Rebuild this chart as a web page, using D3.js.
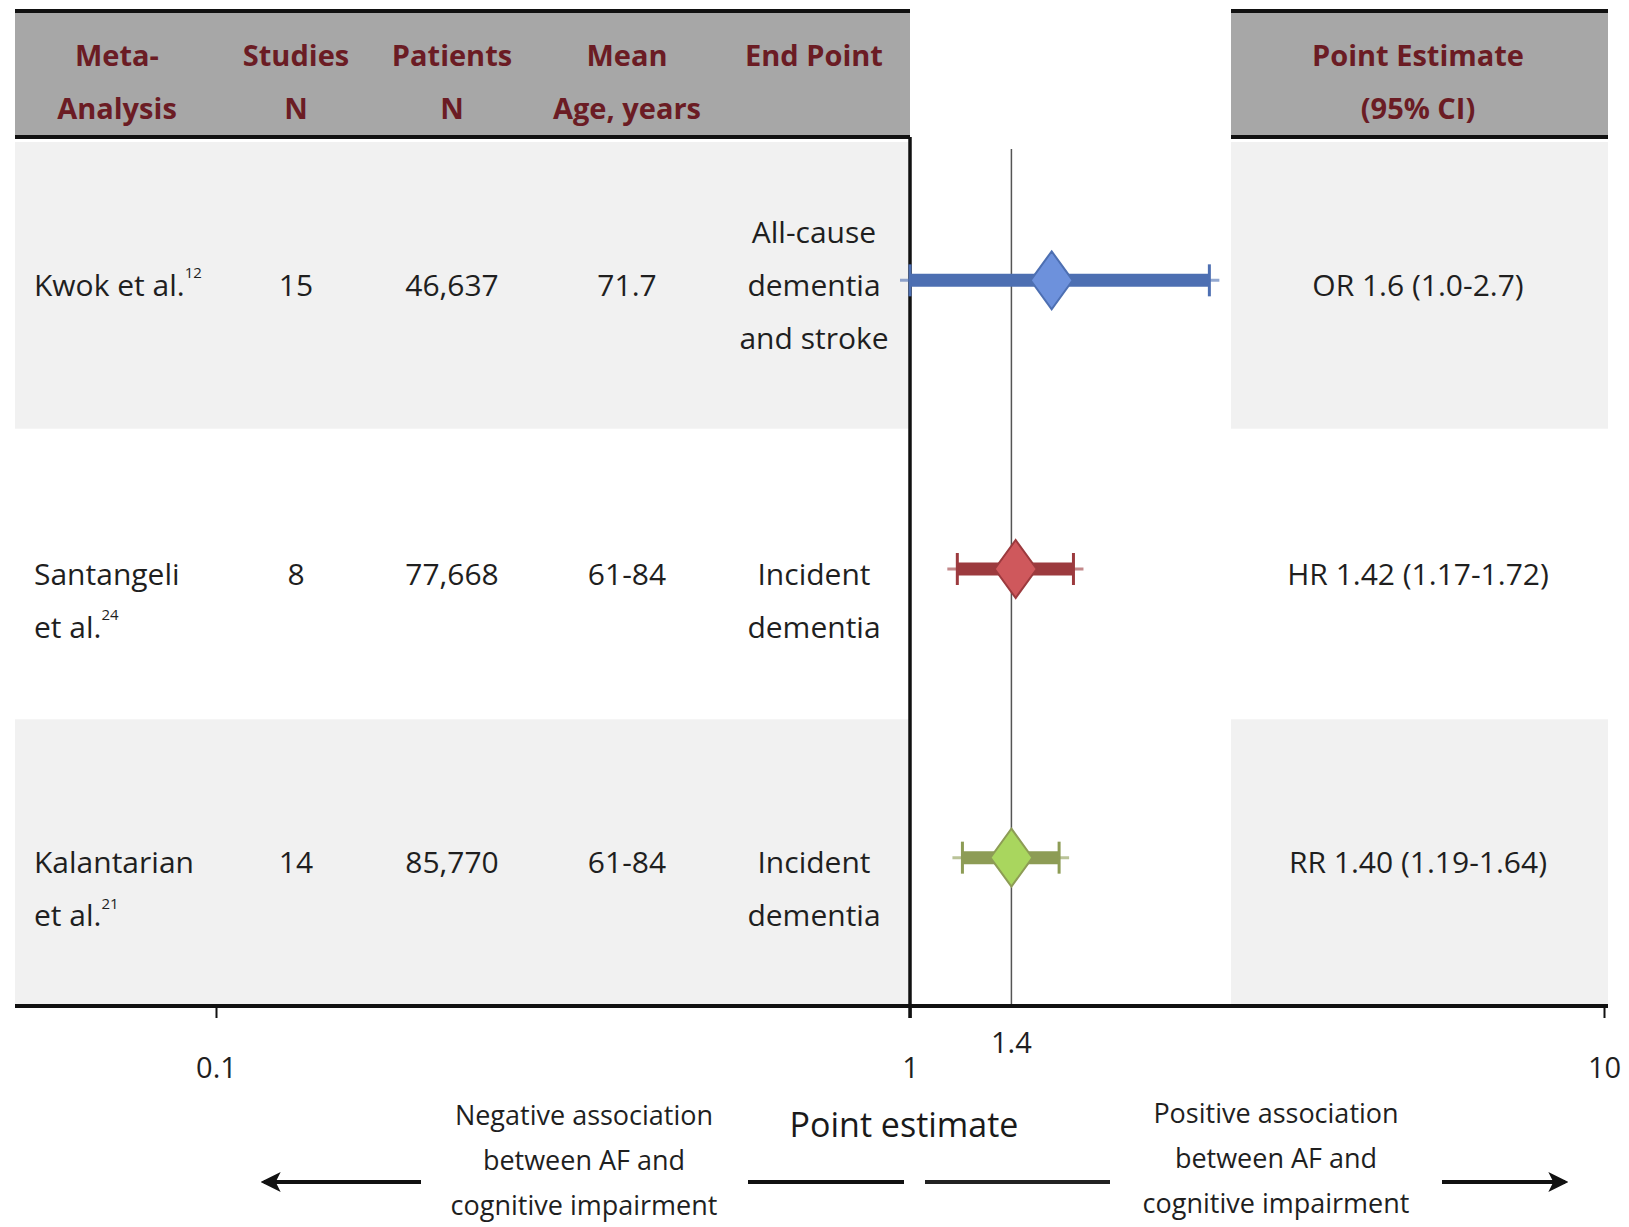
<!DOCTYPE html>
<html><head><meta charset="utf-8">
<script src="https://cdn.jsdelivr.net/npm/d3@7"></script>
<style>html,body{margin:0;padding:0;background:#fff;} svg{display:block;font-family:"Open Sans",sans-serif;}</style>
</head><body><svg id="chart" width="1629" height="1227"></svg>
<script>
// ---- data ----
const headers = [["Meta-","Analysis"],["Studies","N"],["Patients","N"],["Mean","Age, years"],["End Point"]];
const ciHeader = ["Point Estimate","(95% CI)"];
const studyNames = [["Kwok et al."],["Santangeli","et al."],["Kalantarian","et al."]];
const refNums = ["12","24","21"];
const studiesN = ["15","8","14"];
const patientsN = ["46,637","77,668","85,770"];
const meanAge = ["71.7","61-84","61-84"];
const endPoints = [["All-cause","dementia","and stroke"],["Incident","dementia"],["Incident","dementia"]];
const measures = ["OR","HR","RR"];
const estimates = [1.6,1.42,1.40];
const lowerCI = [1.0,1.17,1.19];
const upperCI = [2.7,1.72,1.64];
const ciLabels = ["OR 1.6 (1.0-2.7)","HR 1.42 (1.17-1.72)","RR 1.40 (1.19-1.64)"];
const tickValues = [0.1,1,10];
const tickLabels = ["0.1","1","10"];
const refValue = 1.4;
const refLabel = "1.4";
const axisTitle = "Point estimate";
const negLabel = ["Negative association","between AF and","cognitive impairment"];
const posLabel = ["Positive association","between AF and","cognitive impairment"];
const lineColors = ["#4d6fb2","#9c3a3e","#8d9c55"];
const fillColors = ["#6d91dc","#cf585c","#a9d65e"];

// ---- layout ----
const svg = d3.select("#chart");
const x = d3.scaleLog().domain([0.1,10]).range([216,1604]);
const rows = d3.range(studyNames.length);
const y = d3.scaleBand().domain(rows).range([140,1006]);
const leftL = 15, leftR = x(1), rightL = 1231, rightR = 1608;
const headTop = 11, headBot = 137;
const colX = [117,296,452,627,814];
const nameX = 34;
const ciX = 1418;
const lh = 53;
const textColor = "#1f1f1f", headColor = "#6b1c24";

// header boxes
[[leftL,leftR],[rightL,rightR]].forEach(([a,b])=>{
  svg.append("rect").attr("x",a).attr("y",headTop).attr("width",b-a).attr("height",headBot-headTop).attr("fill","#a7a7a7");
  svg.append("line").attr("x1",a).attr("x2",b).attr("y1",headTop).attr("y2",headTop).attr("stroke","#111").attr("stroke-width",4);
  svg.append("line").attr("x1",a).attr("x2",b).attr("y1",headBot).attr("y2",headBot).attr("stroke","#111").attr("stroke-width",4);
});

// row bands
rows.filter(i=>i%2===0).forEach(i=>{
  svg.append("rect").attr("x",leftL).attr("y",y(i)+2).attr("width",leftR-leftL).attr("height",y.bandwidth()-2).attr("fill","#f1f1f1");
  svg.append("rect").attr("x",rightL).attr("y",y(i)+2).attr("width",rightR-rightL).attr("height",y.bandwidth()-2).attr("fill","#f1f1f1");
});

// header text
const hdr = svg.append("g").attr("fill",headColor).attr("font-size",29).attr("font-weight",700).attr("text-anchor","middle");
headers.forEach((lines,i)=>{
  lines.forEach((t,j)=>{
    hdr.append("text").attr("x",colX[i]).attr("y",54+j*lh).attr("dominant-baseline","central").text(t);
  });
});
ciHeader.forEach((t,j)=>{
  hdr.append("text").attr("x",ciX).attr("y",54+j*lh).attr("dominant-baseline","central").text(t);
});

// body text
const body = svg.append("g").attr("fill",textColor).attr("font-size",30);
function multiline(g, lines, cx, cy, anchor, sup){
  const start = cy - Math.floor((lines.length-1)/2)*lh;
  lines.forEach((t,j)=>{
    const tx = g.append("text").attr("x",cx).attr("y",start+j*lh).attr("dominant-baseline","central").attr("text-anchor",anchor).text(t);
    if(sup && j===lines.length-1){
      tx.append("tspan").attr("font-size",15).attr("dy",-12).text(sup);
    }
  });
}
rows.forEach(i=>{
  const cy = y(i)+y.bandwidth()/2;
  multiline(body, studyNames[i], nameX, cy, "start", refNums[i]);
  multiline(body, [studiesN[i]], colX[1], cy, "middle");
  multiline(body, [patientsN[i]], colX[2], cy, "middle");
  multiline(body, [meanAge[i]], colX[3], cy, "middle");
  multiline(body, endPoints[i], colX[4], cy, "middle");
  multiline(body, [ciLabels[i]], ciX, cy, "middle");
});

// reference line at 1.4
svg.append("line").attr("x1",x(refValue)).attr("x2",x(refValue)).attr("y1",149).attr("y2",1006).attr("stroke","#555").attr("stroke-width",1.5);

// line of no effect (x=1)
svg.append("line").attr("x1",x(1)).attr("x2",x(1)).attr("y1",headBot).attr("y2",1018).attr("stroke","#111").attr("stroke-width",3.5);

// forest marks
const marks = svg.append("g").selectAll("g").data(rows).join("g")
  .attr("transform",i=>`translate(0,${y(i)+y.bandwidth()/2-4})`);
marks.append("line").attr("x1",i=>x(lowerCI[i])-10).attr("x2",i=>x(upperCI[i])+10).attr("y1",0).attr("y2",0)
  .attr("stroke",(i)=>lineColors[i]).attr("stroke-width",3).attr("opacity",0.6);
marks.append("line").attr("x1",i=>x(lowerCI[i])).attr("x2",i=>x(upperCI[i])).attr("y1",0).attr("y2",0)
  .attr("stroke",(i)=>lineColors[i]).attr("stroke-width",13);
marks.each(function(i){
  const g = d3.select(this);
  [lowerCI[i],upperCI[i]].forEach(v=>{
    g.append("line").attr("x1",x(v)).attr("x2",x(v)).attr("y1",-16).attr("y2",16).attr("stroke",lineColors[i]).attr("stroke-width",3);
  });
  const cx = x(estimates[i]), hw = 21, hh = 29;
  const p = d3.path();
  p.moveTo(cx,-hh); p.lineTo(cx+hw,0); p.lineTo(cx,hh); p.lineTo(cx-hw,0); p.closePath();
  g.append("path").attr("d",p.toString()).attr("fill",fillColors[i]).attr("stroke",lineColors[i]).attr("stroke-width",2);
});

// axis
const axisY = 1006;
svg.append("line").attr("x1",leftL).attr("x2",rightR).attr("y1",axisY).attr("y2",axisY).attr("stroke","#111").attr("stroke-width",4);
const ax = svg.append("g").attr("transform",`translate(0,${axisY})`)
  .call(d3.axisBottom(x).tickValues(tickValues).tickFormat((d,i)=>tickLabels[i]).tickSize(12).tickPadding(39));
ax.select(".domain").remove();
ax.selectAll(".tick line").attr("stroke","#111").attr("stroke-width",2);
ax.selectAll(".tick text").attr("font-size",29).attr("fill",textColor).attr("font-family","Open Sans, sans-serif");
svg.append("text").attr("x",x(refValue)).attr("y",1041).attr("text-anchor","middle").attr("dominant-baseline","central")
  .attr("font-size",29).attr("fill",textColor).text(refLabel);

// axis title & direction labels
svg.append("text").attr("x",904).attr("y",1124).attr("text-anchor","middle").attr("dominant-baseline","central")
  .attr("font-size",34).attr("fill","#1a1a1a").text(axisTitle);
const dirG = svg.append("g").attr("fill",textColor).attr("font-size",27).attr("text-anchor","middle");
negLabel.forEach((t,j)=>dirG.append("text").attr("x",584).attr("y",1114+j*45).attr("dominant-baseline","central").text(t));
posLabel.forEach((t,j)=>dirG.append("text").attr("x",1276).attr("y",1112+j*45).attr("dominant-baseline","central").text(t));

// arrows
const defs = svg.append("defs");
defs.append("marker").attr("id","ah").attr("viewBox","0 0 12 12").attr("refX",10).attr("refY",6)
  .attr("markerWidth",5).attr("markerHeight",5).attr("orient","auto-start-reverse").attr("markerUnits","strokeWidth")
  .append("path").attr("d","M0,0 L12,6 L0,12 L3,6 Z").attr("fill","#111");
const arrY = 1182;
svg.append("line").attr("x1",421).attr("x2",264).attr("y1",arrY).attr("y2",arrY).attr("stroke","#111").attr("stroke-width",4).attr("marker-end","url(#ah)");
svg.append("line").attr("x1",748).attr("x2",904).attr("y1",arrY).attr("y2",arrY).attr("stroke","#111").attr("stroke-width",4);
svg.append("line").attr("x1",925).attr("x2",1110).attr("y1",arrY).attr("y2",arrY).attr("stroke","#222").attr("stroke-width",4);
svg.append("line").attr("x1",1442).attr("x2",1565).attr("y1",arrY).attr("y2",arrY).attr("stroke","#111").attr("stroke-width",4).attr("marker-end","url(#ah)");
</script></body></html>
